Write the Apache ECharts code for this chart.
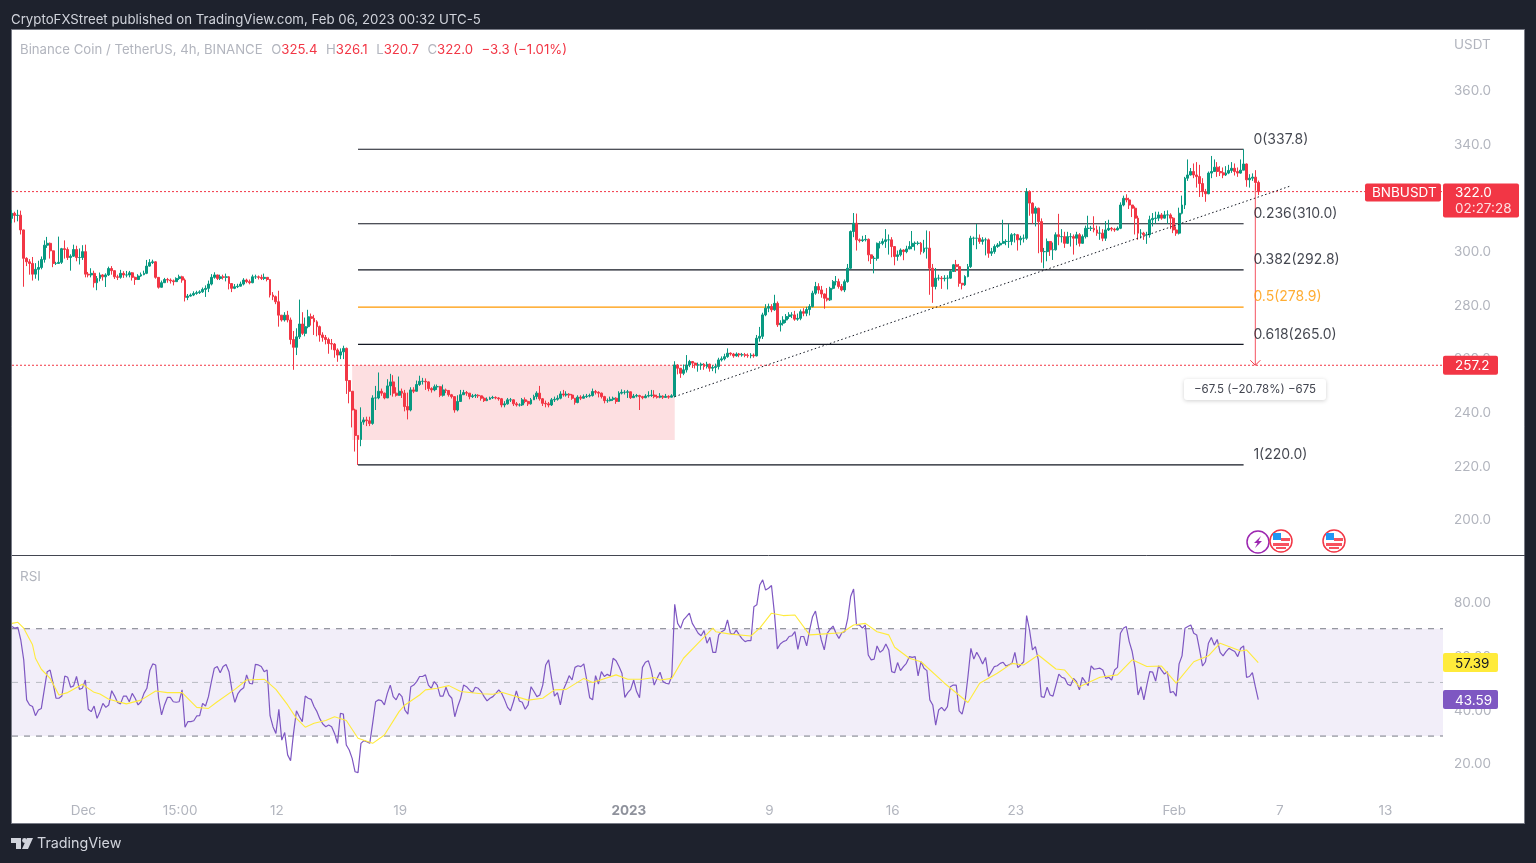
<!DOCTYPE html>
<html>
<head>
<meta charset="utf-8">
<title>BNBUSDT</title>
<script src="https://cdn.jsdelivr.net/npm/echarts@6/dist/echarts.min.js"></script>
<style>
  html, body { margin: 0; height: 100%; background: #1e222d; overflow: hidden; }
  #chart { width: 1536px; height: 863px; }
</style>
</head>
<body>
<div id="chart"></div>
<script>
// every candle opens at the previous close
const firstOpen = 312.0;
const closes = [
  313.9,313.1,313.2,307.7,297.1,295.8,295.2,291.2,293,293.7,
  296.7,302,302.7,299.9,295.2,295.2,295.6,300.7,300.4,297.4,
  297.9,300.4,297.4,297.4,299.6,291.2,290.9,291.5,288,289.6,
  290.9,290.2,290.9,293.3,292.5,290.2,290,291.5,290.9,290.9,
  291.7,290,289.2,290.5,291,291.5,294.2,295.5,295.8,290,
  286.3,288,289.2,289,288.7,288.4,289.6,290.2,289,282.5,
  283,283.4,284,284.3,284.6,285.5,285.9,287.5,290,290.9,
  289.6,290.2,290,290.2,287.7,285.9,286.5,286.7,287.5,289,
  288.4,288,290.2,290.2,290,289.6,290,289.2,283.4,282.8,
  280.9,275.9,274.1,275.9,274.1,266.8,263.9,267.8,272.6,269.1,
  271.6,275.3,274.7,273.4,271.6,268.5,267.6,266.8,265.3,265.1,262.9,261,262.2,
  263.5,251.5,247.5,240.5,231,229.5,236,236.8,236.5,235.5,
  245,245,247.5,246.8,245,249.5,251,246.8,246,247.5,
  246.8,241.8,240.5,248,247.5,250,251.2,251.2,251,248.5,
  248,249.2,249.2,246,248,247.8,246.2,245.5,240.5,243.7,
  246.2,247,246.8,245.5,245.8,246,245.8,244.9,244,244.5,
  245,245.2,245,244.7,242.4,242.8,244.3,244.3,242.8,242.4,
  242.4,244.3,243.7,242.8,244.3,245.5,246.8,244.7,243,242.8,
  242.4,244.3,244.5,244.9,246.5,246.1,246.4,246.1,244.9,243.3,
  245.3,244.9,245.5,245.7,245.9,247.4,247.1,246.8,245.5,244,
  244,244.5,244.9,243.7,246.8,247.1,247.1,247.3,245.1,245.7,
  245.9,245.5,245.1,245.7,245.9,246.1,245.5,245.3,245.7,245.2,245.6,245.3,245.8,
  257.3,256.1,254.2,255.5,257.3,258.6,258,257.3,257.3,257.6,
  256.7,257.6,256.1,256.4,256.7,259.2,259.6,260.4,261.7,261.4,
  260.7,261.4,261.1,261.1,260.9,260.7,261,260.7,267.3,268,
  276,278.5,279.1,277.9,280.3,272.3,272.9,274.1,275.4,276,
  276,274.4,274.7,277.2,276.6,278,279.1,284.1,286.6,285.3,
  283.8,282.2,281.6,285.9,288.4,288.4,286.6,285.3,288.4,293.4,
  307.1,310.2,304,303.7,304,304.2,298.4,297.1,297.1,302.7,
  302.7,303.4,304,304,301.5,297.8,298.4,300.2,299.6,300.6,
  301.5,302.7,302.7,302.7,299.6,300.9,300.9,293.4,286.6,289.7,
  289.7,289.5,289.7,289.7,292.2,294.7,294,287.8,287.2,290.3,
  294,304.6,304.6,304.6,303.4,304,304,299,299.6,301.5,
  302.1,302.7,303.4,303.4,303.4,305.9,305.9,304,304.6,304.6,
  322,317.7,313.9,315.8,310.8,299.6,299.6,303.4,300.3,300.3,
  305.9,305.2,305.2,302.7,305.2,305.2,304.6,305.9,302.7,305.2,
  308.3,308.3,308.3,307.7,306.5,306.5,304.6,307.7,308.3,308,
  307.7,308.3,317,319.5,318.9,317,315.8,312.1,306.5,306.5,
  305.9,305.9,311.5,312,312.1,313.3,312.1,313.3,313.3,312.1,
  307.7,306.5,313.9,317,327,328.2,329.5,328.2,327.6,325,
  322,321.2,328.9,329.5,331.1,329.5,329,328.2,328.9,329.9,
  330.7,329.5,328.9,330,332.3,326.4,327,327.4,325.4,322
];
const highs = [
  315.1,314.5,315.2,314.9,307.8,297.5,296.8,297.6,295.3,296.2,
  297.8,303.8,305.1,303,300,295.8,305.2,301,303.8,301.2,
  298.6,302.2,301.8,300.8,302,302.2,292,293.4,292.5,290.5,
  291.8,291.2,291.5,294,294.2,292.2,291,292.8,292.3,292.4,
  292.4,292,290.3,291.2,291.8,292.5,296.5,296.8,296.6,296,
  290,288.8,289.8,289.8,289.6,289.2,290,291,290.6,289.6,
  283.8,284,284.8,285,285.2,286.2,287,288.8,291.2,291.9,
  291,291,291,291.4,290.5,287.8,287.5,287.6,288.4,289.7,
  289.5,289.2,291,291,290.7,291,291.4,290,289.3,284.5,
  283.2,285,275.8,277,277.5,275,270,271,281.7,277,
  275,277.9,276.5,276,274,272,269.5,268.5,267.5,267,265.5,263.5,263.5,
  264.5,263.8,251.5,247.5,241,231,241.5,237.8,238,238,
  246,249.5,254.5,248.5,247,252,254,253.5,249,253,
  248.5,248,247,249,249,251.5,253.3,252.5,252.3,251.2,
  249,250,250,249.5,250,248.5,247.5,246.5,245.5,246,
  248,248,247.6,246.8,246.5,246.5,246.4,245.8,245.5,245.2,
  245.5,245.8,245.6,245.3,245,243.8,245,245,244.5,243.5,
  243,245,245.2,244,245,246.2,247.5,249.5,245,244,
  243.5,245,245.5,246,247.5,248,247.5,246.8,246.5,245,
  246,246,246.3,246.5,246.6,248.5,248,247.5,247,245.8,
  244.8,245.5,245.5,245.3,247.5,248.2,247.9,248,247.4,246.5,
  246.5,246.2,245.8,246.4,247.5,248,247.9,246.2,246.8,246,246.5,246,246.4,
  258.7,257.6,256,257.5,261,259.2,258.8,258.2,258.2,258.2,
  258,258.5,257.8,257.2,257.8,260,260.5,261.5,263.5,262,
  261.8,262,261.8,261.8,261.8,261.6,261.7,261.6,268.5,271.5,
  276.8,280,280.2,280,283.5,281,274,275.5,276.3,277,
  277,277.5,276.5,278,278.5,279,280,285,288.3,287.8,
  286.8,284,286,286.5,289,290.5,289.5,287.5,289.2,295,
  307.5,314,313.8,304.5,305.5,305.8,304.5,298.5,298,303,
  303.5,304.5,308,306,305,300.5,300,300.8,300.5,301.8,
  303.5,307.3,303.4,303.5,303.2,304,307.5,307.2,295,293.5,
  291,290.5,290.8,290.8,292.8,295,296.5,295,287.9,290.8,
  295,305.5,305.2,309.9,306,305,304.8,304.5,301,302.3,
  302.8,303.5,311.5,304.2,310,306.5,306.5,306.2,305.5,306,
  323.3,322.5,318,316.5,316,312,301,304.5,303,303,
  306.8,313.7,308,307,307,306.5,306,307,306.5,306,
  309.3,313,309.2,312.8,309.3,309,308,311,311.5,308.8,
  308.5,309,318,320.5,321,319.7,317,316.5,313,308,
  307,307,313,314,314.5,314.5,314,314.8,315,313.9,
  312.5,309,316,320.5,327.5,334,330.8,332.5,333,332,
  327,323,329.5,335.3,334,333,331.5,331,331.5,332,
  333,332.5,331,334,337.8,332.5,328.5,328.8,330,326.1
];
const lows = [
  310.2,310.5,310.9,306,286.5,294.2,291,288.8,289.5,288.8,
  293,295.5,301,297,293.8,294.6,295,295,297,296.5,
  292.5,297.6,296,294.8,296.5,290,290,290,286.2,285.2,
  288.5,288.8,286.4,290.5,291,289.4,289,289.5,289.8,290,
  290,288.8,287.2,289,290.2,290.8,291.2,294,295,289.5,
  285.8,286.5,288,288,287.7,287,288.4,289,288,281,
  281.5,282.8,283,283.5,283.8,284.2,282.7,284.5,287,289.5,
  289,289,289.2,288.5,285.5,284.5,285.6,286,286.8,287,
  287.8,287.4,287.8,289.4,289.2,289,289,288.5,282.5,281.5,
  280,271.6,273.5,273.5,273.2,265,255.5,261,267,268.5,
  268,271,272,268.5,268,266,266,265,261.5,263,260,258.5,259.5,
  259.5,246.5,243,234,225,220,227,235,234.5,234.5,
  235,240.5,244.5,245.8,244.5,245,246,245.5,245.5,245.8,
  245,240,237,240,246.8,248,249.5,250,248,247.5,
  247,247.5,248,245.3,245.5,246.8,245.5,244.8,239.5,240,
  243.5,246.2,245.8,244.5,245,245,245,244,243.5,243.8,
  244.3,244.6,244.5,244,241.5,241.5,242.5,243.5,242,241.8,
  241.8,242,243,242,242.5,244.3,244.5,244,242,241.5,
  241.5,242,243.5,244,244.5,245.5,245.5,245,244.3,242.5,
  243,244.2,244.8,245,245.2,245.5,246.3,245.2,244.8,243,
  243.2,243.7,243.9,242.8,243.5,246.3,246.3,245,244.6,245,
  245.2,240.5,244.5,244.9,245.2,245.4,244.9,244.8,244.9,244.6,245,244.7,245.2,
  245.2,253.8,252.5,253.5,254.5,256.5,256.2,256,254.8,255.5,
  255.5,256,254.8,255,254.2,255.6,258.6,259,260,260.8,
  260,260.4,260.2,260.4,260.2,260,259.8,260,260.5,266,
  267,275.5,277,277,277.5,271.5,269.8,272,273,274.5,
  274.8,273.8,273.8,274,275.5,275.5,275.8,278.8,283.5,283.9,
  282.4,278.3,281,281.2,285.5,287,285.8,284.8,284.5,288,
  293,305,300,303,303.2,303.4,296,295,291.5,296.2,
  300.8,302,301,298.5,297.5,294.5,296.2,297.8,296.4,299,
  300.5,300.5,300,302,298.5,299,297,283.5,280.5,285.5,
  288.8,285.7,288.5,285.5,289.5,292,292,286.5,285.5,286.8,
  290,293.5,302,300.5,302.5,302.2,298.2,297.3,298,298.8,
  301,301.5,302.5,302,301,302,303,300,302,303,
  304,313,310,309,299,295.5,293.4,296,298,296.5,
  300,302,303,301,302.5,301.5,298.5,302,301.5,303,
  304.5,305,307.3,306.8,305.5,304,303.5,303.6,307.3,307.2,
  307,307.5,308,316.5,318,315.5,312.5,306,304,304.5,
  304,302.5,304.8,309,310,311,311.5,312,310,308,
  306.5,305.5,306,313.5,315.5,326,328,327,323.5,320,
  320,318.2,321,327,329.3,327.5,327.8,327,327.8,328.5,
  329,328,327.5,328.7,330,323.8,323.5,326,322.5,320.7
];
const rsiValues = [
  70.8,70.2,70.5,65.8,58.4,43.5,41.6,41,37.6,39.7,
  40.3,47.2,54,54.6,49.7,44.1,44.1,44.9,52.4,51.9,
  48.2,48.7,52.2,47.4,47.8,50.9,40,39.1,41.2,36.6,
  39.1,42.2,40.7,41.6,46.9,44.9,42.5,42,44.9,44.9,
  42.8,45.9,44.1,41.6,42.8,45.9,47.8,54.4,56.9,56.5,
  44.1,37.9,41.6,44.4,44.4,42.8,42.6,42.8,47.2,33.3,
  35.4,35.4,35.7,37.5,37.6,42.2,41.2,44.7,50.3,55.3,
  55.9,53.6,55.9,56.7,54,47.2,42.6,45.7,47.2,48,
  52.8,49.7,49.4,56.7,56.5,55.9,54,54.6,37.6,33.5,
  31,40,28.5,31.3,23,20.8,31,39.4,37.2,35.4,
  44.9,44.1,43.7,41,39.1,36.4,34.5,33.5,34.1,33.5,
  31,27.3,38.5,38.2,26.7,24.8,21.7,16.7,16.4,27.3,
  28.3,27.9,27.3,34.8,42.8,43.5,43.2,41.6,45.9,49,
  44.7,43.5,45.9,44.7,39.7,38.2,48.4,49,50.3,52.2,
  52.2,52.8,49,47.8,50.3,49,44.9,44.9,48.2,45.3,
  44.1,37.2,41,44.1,49,48.4,47.2,46.2,48.2,47.8,
  46.6,44.7,43.1,44.1,44.7,45.9,47.2,45.9,43.5,40.7,
  39.4,42.8,46.8,43.1,42.6,40,41.6,48.4,46.6,44.7,
  45.3,49,56.5,58.4,51.5,44.9,46.2,41.6,47.2,49.7,
  52.5,50.9,55.6,56.2,55.9,56.9,50.9,44.3,43.5,52.5,
  49.4,54,52.2,53,52.4,59,58.1,55.9,53.4,44.4,
  46.2,47.4,50.9,46.6,44.3,55.6,57.5,58.1,54.6,49,
  51.5,53.8,50.3,49.7,49.4,52.4,79.1,72,70.2,73.3,
  74.5,75.8,72,70.2,68.3,67.4,69.3,64.6,66.8,61.2,
  61.2,67.7,68.9,69.5,73.3,68.3,67.9,69.5,67.7,66.2,
  65.2,65.6,65.6,78.2,78.9,86.3,88.2,84.4,85.1,86.1,
  75.8,62.5,64.3,65.2,65.6,67.1,67.4,68.9,62.3,67.1,
  67.1,63.6,69.5,74.5,76.6,70.8,65.8,62.1,68.3,69.8,
  71,68.3,66.4,
  68.5,68.9,73.9,82,84.8,71.4,71.4,70.2,71.4,60.2,
  58.4,58.7,63.6,61.2,62.1,64.3,62.1,54,53.6,57.4,
  54.4,55.9,57.1,59.6,59.3,59.6,52.4,57.7,55.3,54.4,
  43.5,41.6,34.1,39.7,40.7,39.4,41,48.4,49,49,
  39.4,38.2,42.8,52.2,62.7,58.7,61.2,59.3,56.9,59.3,
  52.2,54,55.9,56.2,57.1,57.5,56.1,56.6,57.1,61.2,
  55.5,56.5,57.7,74.9,69.5,62.1,63.3,58.4,44.7,44.4,
  48.2,45.3,44.9,49,53.1,51.9,51.5,49.3,48.8,51.5,
  50.3,47.2,51.9,50.3,48.8,56.2,54.9,55.1,55.3,54.6,
  51.5,51.9,50.9,54.6,55.6,68.3,70.2,70.8,65.2,61.5,
  55.3,45.3,48.4,43.5,49,54,53.8,50.5,56.2,54.6,
  53.1,54,46.2,46.6,44.9,56.9,59.9,70.2,70.8,71.4,
  68.3,67.7,62.1,56.1,57.7,64.6,66.7,63.9,66,61.2,
  59.9,61.5,62.7,62.1,61.5,59.6,62.7,63.6,51.9,52.2,
  53.6,48.4,43.59
];
const maBars = [0,2,4,7,8,10,13,16,19,24,28,30,33,39,44,49,53,58,63,67,70,76,80,86,90,94,97,100,103,107,110,114,118,123,127,132,134,139,141,145,149,153,160,164,167,176,181,185,189,195,198,206,210,215,219,221,225,229,234,239,240,245,252,255,259,263,267,272,276,283,287,291,295,299,301,306,310,318,326,330,336,341,345,350,356,359,364,371,377,382,387,392,397,403,408,412,419,421,425];
const maValues = [72,72.4,70.2,64,59,54.9,51.5,45.3,46.2,49.3,46.3,45.7,43.7,42,43.4,46.8,46.2,46.2,40.7,40.3,42.8,47.4,50.9,51.2,47.4,41.6,36.6,33.3,34.8,35.8,37.2,35.8,29.2,27.3,30.4,39.1,41.6,45.3,47.2,47.8,48.8,46.6,45.8,45.6,46.3,43.4,44.1,47.2,47.4,51.5,50,52.8,51.2,51.2,51.8,50.9,51.5,59,64.6,70.2,68.9,68,67.3,70.2,75.8,74.9,75.1,67.7,68,68.5,71.4,72,68.9,67.7,63.1,59,57.7,49.7,42.5,49.7,53.4,57.1,56.5,60.2,55,54.6,48.4,51.9,52.8,58.4,55.9,56.1,49.7,57.7,59.9,64.6,61.7,62.1,57.39];

const fibNames = ['0', '0.236', '0.382', '0.5', '0.618', '1'];
const fibLevels = [337.8, 310.0, 292.8, 278.9, 265.0, 220.0];
const fibStartBar = 118;
const fibEndBar = 420;
const fibLabelBar = 423;

const priceTicks = [200, 220, 240, 260, 280, 300, 320, 340, 360];
const rsiTicks = [20, 40, 60, 80];
const timeTickBars = [24, 57, 90, 132, 210, 258, 300, 342, 396, 432, 468];
const timeTickLabels = ['Dec', '15:00', '12', '19', '2023', '9', '16', '23', 'Feb', '7', '13'];

const lastPrice = 322.0;
const targetPrice = 257.2;
const measureStart = 324.7;
const lastRsi = 43.59;
const lastMa = 57.39;

const BAR_SLOTS = 489;
const LAST_SLOT = BAR_SLOTS - 1;
const UP = '#089981';
const DOWN = '#F23645';
const AXIS_TEXT = '#b2b5be';
const FONT = 'Inter, "Noto Sans", sans-serif';

const categories = [];
for (let i = 0; i < BAR_SLOTS; i++) {
  categories.push(new Date(Date.UTC(2022, 10, 27) + i * 4 * 3600 * 1000).toISOString().slice(0, 16));
}

const candles = closes.map((c, i) => [i ? closes[i - 1] : firstOpen, c, lows[i], highs[i]]);

const chart = echarts.init(document.getElementById('chart'), null, { renderer: 'canvas' });

// straight drawing tools are plain two point line series on the pane's axes
const segment = (name, pane, from, to, lineStyle, z) => ({
  name, type: 'line', xAxisIndex: pane, yAxisIndex: pane, data: [from, to],
  showSymbol: false, silent: true, z: z || 2, lineStyle
});

const fibSeries = fibLevels.map((lvl, i) => segment('fib ' + fibNames[i], 0, [fibStartBar, lvl], [fibEndBar, lvl], {
  color: fibNames[i] === '0.5' ? '#ff9800' : '#131722',
  width: 1.2
}));

const dottedRed = { color: DOWN, width: 1, type: [2, 2] };
const rsiDash = { color: '#787b86', width: 1, type: [6, 6] };

// axis text sits a pixel lower than echarts centres it
const axisRich = { a: { color: AXIS_TEXT, fontFamily: FONT, fontSize: 13.5, padding: [3, 0, 0, 0] } };

chart.setOption({
  animation: false,
  backgroundColor: '#1e222d',
  grid: [
    { left: 12, top: 30, width: 1431, height: 525 },
    { left: 12, top: 556, width: 1431, height: 241 }
  ],
  xAxis: [
    {
      type: 'category', gridIndex: 0, data: categories, boundaryGap: false,
      axisLine: { show: false }, axisTick: { show: false }, axisLabel: { show: false },
      splitLine: { show: false }
    },
    {
      type: 'category', gridIndex: 1, data: categories, boundaryGap: false,
      axisLine: { show: false }, axisTick: { show: false }, splitLine: { show: false },
      axisLabel: {
        color: AXIS_TEXT, fontFamily: FONT, fontSize: 13.5, margin: 7, padding: [0, 0, 0, 2],
        interval: i => timeTickBars.includes(i),
        formatter: (v, i) => {
          const t = timeTickLabels[timeTickBars.indexOf(i)];
          return t === '2023' ? '{b|2023}' : t;
        },
        rich: { b: { color: '#8f929c', fontWeight: 'bold', fontFamily: FONT, fontSize: 13.5 } }
      }
    }
  ],
  yAxis: [
    {
      type: 'value', gridIndex: 0, position: 'right', min: 186.4, max: 382.3, scale: true,
      axisLine: { show: false }, axisTick: { show: false, customValues: priceTicks },
      splitLine: { show: false },
      axisLabel: { customValues: priceTicks, margin: 11, rich: axisRich, formatter: v => `{a|${v.toFixed(1)}}` }
    },
    {
      type: 'value', gridIndex: 1, position: 'right', min: 7.3, max: 97.1,
      axisLine: { show: false }, axisTick: { show: false, customValues: rsiTicks },
      splitLine: { show: false },
      axisLabel: { customValues: rsiTicks, margin: 11, rich: axisRich, formatter: v => `{a|${v.toFixed(2)}}` }
    }
  ],
  series: [
    ...fibSeries,
    segment('last price', 0, [0, lastPrice], [LAST_SLOT, lastPrice], dottedRed),
    segment('target', 0, [0, targetPrice], [LAST_SLOT, targetPrice], dottedRed),
    segment('trend', 0, [226, 245.5], [436, 324.1], { color: '#131722', width: 1, type: [1.5, 2.5] }, 4),
    segment('measure', 0, [424, measureStart], [424, targetPrice], { color: DOWN, width: 1, opacity: 0.85 }, 4),
    {
      name: 'BNBUSDT', type: 'candlestick', xAxisIndex: 0, yAxisIndex: 0, data: candles,
      barWidth: 2.4, progressive: 0, clip: true, silent: true, z: 3,
      itemStyle: { color: UP, color0: DOWN, borderColor: UP, borderColor0: DOWN, borderWidth: 1 },
      markArea: {
        silent: true,
        itemStyle: { color: 'rgba(242,54,69,0.16)' },
        data: [[{ coord: [116, targetPrice] }, { coord: [226, 229.3] }]]
      }
    },
    {
      name: 'Fib labels', type: 'scatter', xAxisIndex: 0, yAxisIndex: 0, symbolSize: 0, silent: true, z: 5,
      data: fibLevels.map((lvl, i) => ({
        value: [fibLabelBar, lvl + 3.7],
        label: {
          show: true, position: 'right', distance: 1, fontFamily: FONT, fontSize: 14,
          color: fibNames[i] === '0.5' ? '#ff9800' : '#131722',
          formatter: `${fibNames[i]}(${lvl.toFixed(1)})`
        }
      }))
    },
    segment('rsi upper', 1, [0, 70], [LAST_SLOT, 70], rsiDash, 3),
    segment('rsi middle', 1, [0, 50], [LAST_SLOT, 50], { ...rsiDash, color: '#b9bbc3' }, 3),
    segment('rsi lower', 1, [0, 30], [LAST_SLOT, 30], rsiDash, 3),
    {
      name: 'RSI', type: 'line', xAxisIndex: 1, yAxisIndex: 1, data: rsiValues, showSymbol: false,
      silent: true, z: 4, lineStyle: { color: '#7e57c2', width: 1.2 },
      markArea: {
        silent: true,
        itemStyle: { color: 'rgba(126,87,194,0.1)' },
        data: [[{ coord: [0, 70] }, { coord: [LAST_SLOT, 30] }]]
      }
    },
    {
      name: 'RSI MA', type: 'line', xAxisIndex: 1, yAxisIndex: 1, showSymbol: false, silent: true, z: 5,
      data: maBars.map((b, i) => [b, maValues[i]]),
      lineStyle: { color: '#ffeb3b', width: 1.1 }
    }
  ]
});

// labels and overlays sit outside the series, their y comes from the axes
const py = v => chart.convertToPixel({ yAxisIndex: 0 }, v);
const ry = v => chart.convertToPixel({ yAxisIndex: 1 }, v);
const bx = i => chart.convertToPixel({ xAxisIndex: 0 }, i);

const txt = (x, y, text, fill, extra) => ({
  type: 'text', x, y, z: 60,
  style: { text, fill, fontFamily: FONT, fontSize: 13.5, textVerticalAlign: 'middle', ...extra }
});
const box = (x, y, w, h, fill) => ({
  type: 'rect', z: 50, shape: { x, y, width: w, height: h, r: 2 }, style: { fill }
});
const flag = cx => {
  const cy = 541;
  return [
    { type: 'circle', z: 55, shape: { cx, cy, r: 11 }, style: { fill: '#fff', stroke: DOWN, lineWidth: 1.5 } },
    { type: 'rect', z: 56, shape: { x: cx - 8, y: cy - 8, width: 8, height: 7 }, style: { fill: '#2196f3' } },
    { type: 'rect', z: 56, shape: { x: cx, y: cy - 3, width: 9, height: 3 }, style: { fill: '#f7525f' } },
    { type: 'rect', z: 56, shape: { x: cx - 8, y: cy + 2, width: 16, height: 3 }, style: { fill: '#f7525f' } },
    { type: 'rect', z: 56, shape: { x: cx - 5, y: cy + 6, width: 10, height: 2 }, style: { fill: '#f7525f' } }
  ];
};

const legend = '{g|Binance Coin / TetherUS, 4h, BINANCE}{s| }{g|O}{r|325.4}{s| }{g|H}{r|326.1}{s| }{g|L}{r|320.7}{s| }{g|C}{r|322.0}{s| }{r|−3.3 (−1.01%)}';
const legendRich = {
  g: { fill: AXIS_TEXT, fontFamily: FONT, fontSize: 13.2 },
  r: { fill: DOWN, fontFamily: FONT, fontSize: 13.2 },
  s: { width: 8.5 }
};

const arrowX = bx(424);
const arrowY = py(targetPrice);
const lastY = py(lastPrice) + 1;
const targetY = py(targetPrice);

chart.setOption({
  graphic: [
    { type: 'rect', z: -1, silent: true, shape: { x: 11.5, y: 29.5, width: 1513, height: 794 }, style: { fill: '#fff', stroke: '#787b86', lineWidth: 1 } },
    { type: 'line', z: 40, shape: { x1: 12, y1: 555.5, x2: 1525, y2: 555.5 }, style: { stroke: '#434651', lineWidth: 1 } },

    txt(11, 20, 'CryptoFXStreet published on TradingView.com, Feb 06, 2023 00:32 UTC-5', '#d1d4dc', { fontSize: 13.25 }),
    { type: 'text', x: 20, y: 50, z: 60, style: { text: legend, rich: legendRich, textVerticalAlign: 'middle' } },
    txt(1454, 45, 'USDT', AXIS_TEXT),
    txt(20, 577, 'RSI', AXIS_TEXT),

    box(1365, lastY - 9, 76, 18, DOWN),
    txt(1372, lastY + 0.5, 'BNBUSDT', '#fff'),
    box(1443, lastY - 9, 76, 34, DOWN),
    txt(1455, lastY + 0.5, lastPrice.toFixed(1), '#fff'),
    txt(1455, lastY + 16.5, '02:27:28', 'rgba(255,255,255,0.85)'),
    box(1443, targetY - 9.5, 55, 19, DOWN),
    txt(1455, targetY + 1, targetPrice.toFixed(1), '#fff'),
    box(1443, ry(lastMa) - 9.5, 55, 19, '#ffeb3b'),
    txt(1455, ry(lastMa) + 1, lastMa.toFixed(2), '#131722'),
    box(1443, ry(lastRsi) - 9.5, 55, 19, '#7e57c2'),
    txt(1455, ry(lastRsi) + 1, lastRsi.toFixed(2), '#fff'),

    { type: 'polyline', z: 45, shape: { points: [[arrowX - 5, arrowY - 5], [arrowX, arrowY], [arrowX + 5, arrowY - 5]] }, style: { stroke: DOWN, lineWidth: 1, fill: 'none' } },
    {
      type: 'rect', z: 45, shape: { x: 1184, y: 379, width: 142, height: 21, r: 3 },
      style: { fill: '#fff', shadowBlur: 4, shadowColor: 'rgba(0,0,0,0.18)', shadowOffsetY: 1 }
    },
    txt(1255, 390, '−67.5 (−20.78%) −675', '#434651', { fontSize: 11.5, textAlign: 'center' }),

    { type: 'circle', z: 55, shape: { cx: 1258, cy: 542, r: 11 }, style: { fill: '#fff', stroke: '#9c27b0', lineWidth: 1.5 } },
    { type: 'polygon', z: 56, shape: { points: [[1261, 536], [1254, 543], [1257.5, 543], [1255, 548], [1262, 541], [1258.5, 541]] }, style: { fill: '#9c27b0' } },
    ...flag(1281),
    ...flag(1334),

    { type: 'polygon', z: 60, shape: { points: [[11, 838], [21, 838], [21, 849], [16, 849], [16, 843], [11, 843]] }, style: { fill: '#d1d4dc' } },
    { type: 'circle', z: 60, shape: { cx: 24.5, cy: 840.5, r: 2.4 }, style: { fill: '#d1d4dc' } },
    { type: 'polygon', z: 60, shape: { points: [[27, 838], [33, 838], [28, 849], [22, 849]] }, style: { fill: '#d1d4dc' } },
    txt(37, 844, 'TradingView', '#d1d4dc', { fontSize: 14.3 })
  ]
});
</script>
</body>
</html>
